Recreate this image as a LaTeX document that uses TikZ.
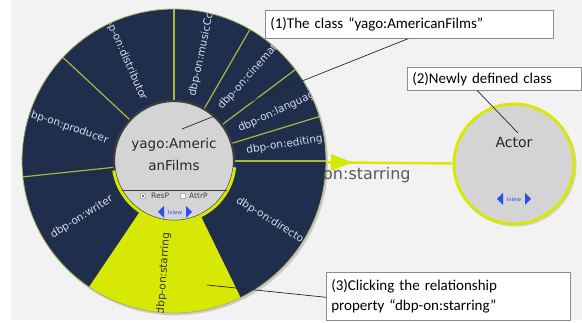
\documentclass[tikz,border=0pt]{standalone}
\usepackage{fontspec}
\setmainfont{DejaVu Sans}
\newfontfamily\annfont{Carlito}
\usetikzlibrary{calc,decorations.markings,arrows.meta}
\definecolor{navy}{RGB}{32,46,78}
\definecolor{starY}{RGB}{214,232,4}
\definecolor{bggray}{RGB}{242,242,242}
\definecolor{divcol}{RGB}{168,184,58}
\definecolor{lblcol}{RGB}{212,219,233}
\definecolor{innergray}{RGB}{212,212,212}
\definecolor{rimgray}{RGB}{62,62,62}
\definecolor{viewblue}{RGB}{40,80,240}
\definecolor{ringedge}{RGB}{176,186,100}
\begin{document}
\begin{tikzpicture}[x=1pt,y=1pt,
  divider/.style={draw=divcol,line width=1.2pt},
  seglbl/.style={text=lblcol,font=\fontsize{10.5}{12}\selectfont,inner sep=0pt},
  annot/.style={draw=black!45,fill=white,line width=0.6pt,inner xsep=5pt,inner ysep=0pt,
    font=\annfont\fontsize{15}{20}\selectfont,align=left,anchor=north west},
  leader/.style={draw=black!85,line width=0.7pt},
  conn/.style={draw=starY,line width=2.4pt},
  small/.style={font=\fontsize{7.5}{8}\selectfont,text=black!75,inner sep=0pt},
  radio/.style={circle,draw=black!45,fill=white,minimum size=6pt,inner sep=0pt,line width=0.5pt},
  viewctl/.pic={
    \fill[viewblue] (-17,0) -- (-11,6) -- (-11,-6) -- cycle;
    \fill[viewblue] (17,0) -- (11,6) -- (11,-6) -- cycle;
    \node[text=viewblue,font=\fontsize{5.5}{6}\selectfont,inner sep=0pt] {lview};
  }]
\useasboundingbox (0,0) rectangle (582,323);
\fill[white] (0,0) rectangle (582,323);
\fill[bggray] (11,3) rectangle (582,323);
\coordinate (C) at (174,162);
% big ring
\fill[black!20] (175.5,160.2) circle (152.5);
\fill[navy] (C) circle (152);
\fill[starY] (C) -- ++(236:152) arc[start angle=236,end angle=296,radius=152] -- cycle;
\foreach \a in {0,17,37,60,90,137,186}
  \draw[divider] ($(C)+(\a:60)$) -- ($(C)+(\a:152)$);
\draw[draw=ringedge,line width=0.8pt] (C) circle (152);
\node[circle,minimum size=304pt,inner sep=0pt,outer sep=0pt] (ring) at (C) {};
\begin{scope}
\clip (C) circle (151.5);
% segment labels (right side read outward)
\node[seglbl,anchor=west,rotate=78] (lmus) at ($(C)+(74:67)$) {dbp-on:musicComposer};
\node[seglbl,anchor=west,rotate=48] (lcin) at ($(C)+(49:70)$) {dbp-on:cinematography};
\node[seglbl,anchor=west,rotate=25] (llan) at ($(C)+(26:72)$) {dbp-on:language};
\node[seglbl,anchor=west,rotate=9] (ledi) at ($(C)+(8:73)$) {dbp-on:editing};
\node[seglbl,anchor=west,rotate=-32] (ldir) at ($(C)+(-31.5:74)$) {dbp-on:director};
% left side read inward
\node[seglbl,anchor=east,rotate=-66] (ldis) at ($(C)+(116:68)$) {dbp-on:distributor};
\node[seglbl,anchor=east,rotate=-19] (lpro) at ($(C)+(163:69)$) {dbp-on:producer};
\node[seglbl,anchor=east,rotate=32] (lwri) at ($(C)+(211:72)$) {dbp-on:writer};
\node[seglbl,anchor=east,rotate=86,text=black!80] (lsta) at ($(C)+(264:72)$) {dbp-on:starring};
\end{scope}
% inner circle
\node[circle,minimum size=120pt,inner sep=0pt,fill=innergray,draw=rimgray,line width=2.2pt] (inner) at (C) {};
\draw[draw=starY,line width=3pt] ($(C)+(189:61)$) arc[start angle=189,end angle=354,radius=61];
\draw[draw=rimgray,line width=0.9pt] ($(C)+(-52.5,-29)$) -- ($(C)+(52.5,-29)$);
\node[font=\fontsize{13.5}{22}\selectfont,text=black!85,align=center,inner sep=0pt] (cname) at (174,169) {yago:Americ\\anFilms};
\node[radio] (rres) at (143,127) {};
\fill[black!60] (rres.center) circle (1.3);
\node[small,anchor=west] (tres) at (151,127) {ResP};
\node[radio] (ratt) at (183,127) {};
\node[small,anchor=west] (tatt) at (189,127) {AttrP};
\pic at (175,111) {viewctl};
% Actor
\fill[black!18] (515.5,157.5) circle (61);
\node[circle,minimum size=120pt,inner sep=0pt,fill=innergray,draw=starY,line width=3pt] (actor) at (514,159) {};
\node[font=\fontsize{14}{16}\selectfont,text=black!85,inner sep=0pt] (aname) at (514,180) {Actor};
\pic at (514,124) {viewctl};
% connector
\draw[conn,postaction={decorate},decoration={markings,mark=at position 27pt with {\arrow{Triangle[length=22pt,width=16pt]}}}] (ring) -- (actor);
\node[anchor=west,text=black!65,font=\fontsize{16}{18}\selectfont,inner sep=0pt] (clbl) at (323,148) {on:starring};
% annotations
\node[annot,minimum width=288pt,minimum height=28pt,text width=278pt] (b1) at (265,313) {(1)The class “yago:AmericanFilms”};
\node[annot,minimum width=174pt,minimum height=23pt,text width=164pt] (b2) at (407,256) {(2)Newly defined class};
\node[annot,minimum width=244pt,minimum height=48pt,text width=234pt,font=\annfont\fontsize{15}{20}\selectfont] (b3) at (326,51) {(3)Clicking the relationship\\property “dbp-on:starring”};
\coordinate (p1) at (182,194);
\coordinate (p2) at (518,190);
\coordinate (p3) at (207,38);
\draw[leader] ([xshift=-1pt]b1.south) -- (p1);
\draw[leader] ([xshift=-17pt]b2.south) -- (p2);
\draw[leader] ([yshift=-1pt]b3.west) -- (p3);
\end{tikzpicture}
\end{document}
